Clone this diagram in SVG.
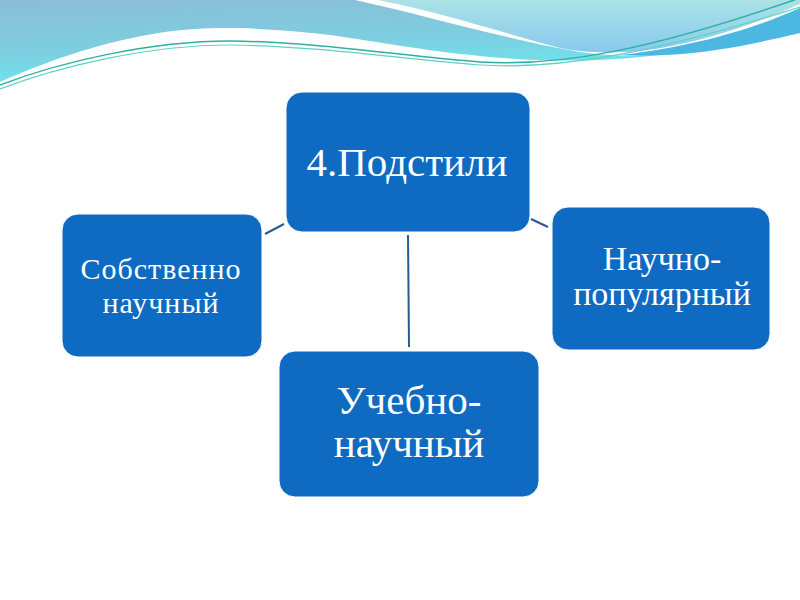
<svg xmlns="http://www.w3.org/2000/svg" width="800" height="600" viewBox="0 0 800 600">
<defs>
<linearGradient id="gA" x1="0" y1="0" x2="0.3" y2="1">
<stop offset="0" stop-color="#8bbdd6"/>
<stop offset="0.6" stop-color="#7ccfe0"/>
<stop offset="1" stop-color="#6ee5ee"/>
</linearGradient>
<linearGradient id="gB" x1="0" y1="0" x2="0" y2="1">
<stop offset="0" stop-color="#abe3e6"/>
<stop offset="1" stop-color="#88c9ee"/>
</linearGradient>
<style>
.node rect{fill:#0e6bc1;stroke:#ffffff;stroke-width:1}
.node text{fill:#ffffff;font-family:"Liberation Serif","DejaVu Serif",serif;text-anchor:middle}
.conn line{stroke:#2b5a92;stroke-width:2}
</style>
</defs>
<rect width="800" height="600" fill="#ffffff"/>
<g id="background">
<path d="M0,0 H355 C420,14 500,38 580,52 C620,58 660,56 700,47 C640,62 560,64 480,56 C420,50 380,42 330,35 C270,28 230,27 195,29 C130,33 60,55 0,82 Z" fill="url(#gA)"/>
<path d="M378,0 H800 V4 C760,22 700,44 640,51 C605,54 580,52 560,48 C500,32 440,12 378,0 Z" fill="url(#gB)"/>
<path d="M800,8 C760,26 700,46 620,55 C690,58 745,46 800,33 Z" fill="#4cb7e0"/>
<path d="M0,85 C60,62 150,41 230,41 C320,42 400,56 480,62 C560,67 650,50 800,-2" fill="none" stroke="#2fb0a3" stroke-width="1.5"/>
<path d="M0,89 C60,66 150,45 230,45 C320,46 400,59 480,65 C560,70 655,53 800,7" fill="none" stroke="#5fd2c4" stroke-width="1.2"/>
</g>
<g id="connectors" class="conn">
<line x1="265" y1="234" x2="284" y2="224"/>
<line x1="531" y1="219" x2="548" y2="227"/>
<line x1="408" y1="235" x2="409" y2="347"/>
</g>
<g id="node-top" class="node">
<rect x="286" y="92" width="244" height="140" rx="16"/>
<text x="407" y="176" font-size="41">4.Подстили</text>
</g>
<g id="node-left" class="node">
<rect x="62" y="214" width="200" height="143" rx="16"/>
<text x="161" y="279" font-size="30" letter-spacing="1">Собственно</text>
<text x="161" y="313" font-size="30" letter-spacing="1">научный</text>
</g>
<g id="node-right" class="node">
<rect x="552" y="207" width="218" height="143" rx="16"/>
<text x="662" y="270" font-size="34">Научно-</text>
<text x="662" y="305" font-size="34">популярный</text>
</g>
<g id="node-bottom" class="node">
<rect x="279" y="351" width="260" height="146" rx="16"/>
<text x="409" y="414" font-size="41">Учебно-</text>
<text x="409" y="457" font-size="41">научный</text>
</g>
</svg>
